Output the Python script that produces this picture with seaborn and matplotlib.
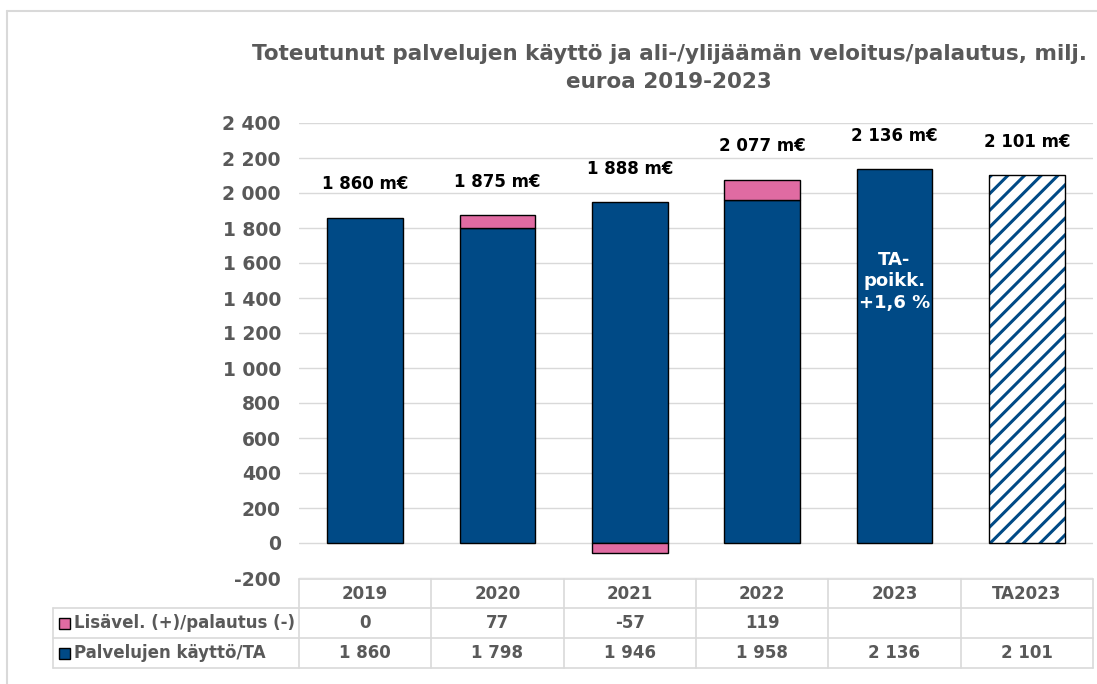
import numpy as np
import pandas as pd
import matplotlib.pyplot as plt
import matplotlib.lines as mlines
import matplotlib.patches as mpatches
import matplotlib.transforms as mtransforms
import seaborn as sns

#### Data
years = ['2019', '2020', '2021', '2022', '2023', 'TA2023']
kaytto = [1860, 1798, 1946, 1958, 2136, 2101]          # Palvelujen käyttö/TA
lisavel = [0, 77, -57, 119, None, None]                # Lisävel. (+)/palautus (-)
totals = [1860, 1875, 1888, 2077, 2136, 2101]          # labels above bars (m€)
yticks = [-200, 0, 200, 400, 600, 800, 1000, 1200, 1400, 1600, 1800, 2000, 2200, 2400]
row_labels = ['Lisävel. (+)/palautus (-)', 'Palvelujen käyttö/TA']
title = 'Toteutunut palvelujen käyttö ja ali-/ylijäämän veloitus/palautus, milj.\neuroa 2019-2023'
note = 'TA-\npoikk.\n+1,6 %'

BLUE = '#004A86'
PINK = '#E06BA2'
GRAY = '#595959'
LINE = '#D9D9D9'
W, H = 1097, 684

sns.set_theme(style='white')
plt.rcParams['font.family'] = ['DejaVu Sans']
plt.rcParams['hatch.linewidth'] = 2.2

fig = plt.figure(figsize=(W / 100, H / 100), dpi=100)
ax = fig.add_axes([299 / W, 1 - 578 / H, 794 / W, 455 / H])

def fx(x):
    return x / W

def fy(y):
    return 1 - y / H

#### bars
df = pd.DataFrame({'vuosi': years, 'kaytto': kaytto})
sns.barplot(data=df, x='vuosi', y='kaytto', color=BLUE, saturation=1, width=0.57,
            edgecolor='black', linewidth=1, ax=ax, zorder=3)

lis = np.array([np.nan if v is None else v for v in lisavel], dtype=float)
bottoms = np.where(lis > 0, np.array(kaytto, dtype=float), 0)
idx = np.arange(len(years))
ok = ~np.isnan(lis) & (lis != 0)
ax.bar(idx[ok], lis[ok], bottom=bottoms[ok], width=0.57, color=PINK,
       edgecolor='black', linewidth=1, zorder=3)

# budget bar: white with blue diagonal stripes
ta = ax.patches[len(years) - 1]
ta.set_facecolor('white')
ta.set_edgecolor(BLUE)
ta.set_hatch('//')
ta.set_linewidth(0)
ax.add_patch(mpatches.Rectangle(ta.get_xy(), ta.get_width(), ta.get_height(),
                                fill=False, edgecolor='black', linewidth=1, zorder=4))

#### axes styling
ax.set_xlim(-0.5, len(years) - 0.5)
ax.set_ylim(-200, 2400)
ax.set_yticks(yticks)
ax.set_yticklabels([f'{v:,}'.replace(',', ' ') for v in yticks], fontsize=13.5,
                   fontweight='bold', color=GRAY)
ax.tick_params(axis='y', length=0, pad=13)
ax.set_xticks([])
ax.set_xlabel('')
ax.set_ylabel('')
ax.yaxis.grid(True, color=LINE, linewidth=1)
ax.set_axisbelow(True)
for s in ax.spines.values():
    s.set_visible(False)

#### labels above bars
for i, t in enumerate(totals):
    top = max(kaytto[i], kaytto[i] + (lis[i] if lis[i] > 0 else 0))
    ax.text(i, top + 190, f'{t:,} m€'.replace(',', ' '), ha='center', va='center',
            fontsize=12, fontweight='bold', color='black')

ax.text(4, 1496, note, ha='center', va='center', color='white', fontsize=13,
        fontweight='bold', linespacing=1.25, zorder=5)

#### title
fig.text(fx(669), fy(68), title, ha='center', va='center', fontsize=15.5,
         fontweight='bold', color=GRAY, linespacing=1.45)

#### data table under the chart
bt = mtransforms.blended_transform_factory(ax.transData, fig.transFigure)
rows_y = [579, 608, 638, 668]
for k in range(len(years) + 1):
    fig.add_artist(mlines.Line2D([k - 0.5, k - 0.5], [fy(579), fy(668)], transform=bt,
                                 color=LINE, linewidth=1.2))
fig.add_artist(mlines.Line2D([fx(299), fx(1093)], [fy(579), fy(579)], color=LINE, linewidth=1.2))
for y in rows_y[1:]:
    fig.add_artist(mlines.Line2D([fx(53), fx(1093)], [fy(y), fy(y)], color=LINE, linewidth=1.2))
fig.add_artist(mlines.Line2D([fx(53), fx(53)], [fy(608), fy(668)], color=LINE, linewidth=1.2))

def fmt(v):
    return '' if v is None else f'{v:,}'.replace(',', ' ')

for i, yr in enumerate(years):
    fig.text(0, fy(594), yr, transform=bt, ha='center', va='center', fontsize=12,
             fontweight='bold', color=GRAY).set_x(i)
    fig.text(0, fy(623.5), fmt(lisavel[i]), transform=bt, ha='center', va='center',
             fontsize=12, fontweight='bold', color=GRAY).set_x(i)
    fig.text(0, fy(653.5), fmt(kaytto[i]), transform=bt, ha='center', va='center',
             fontsize=12, fontweight='bold', color=GRAY).set_x(i)

for lab, col, y in zip(row_labels, [PINK, BLUE], [623.5, 653.5]):
    fig.add_artist(mpatches.Rectangle((fx(59), fy(y + 5.5)), 11 / W, 11 / H,
                                      facecolor=col, edgecolor='black', linewidth=1,
                                      transform=fig.transFigure))
    fig.text(fx(74), fy(y), lab, ha='left', va='center', fontsize=12,
             fontweight='bold', color=GRAY)

#### light frame around the chart
fig.add_artist(mlines.Line2D([fx(7), fx(7)], [fy(11), 0], color=LINE, linewidth=1.5))
fig.add_artist(mlines.Line2D([fx(7), 1], [fy(11), fy(11)], color=LINE, linewidth=1.5))

plt.savefig('out.png', dpi=100)
